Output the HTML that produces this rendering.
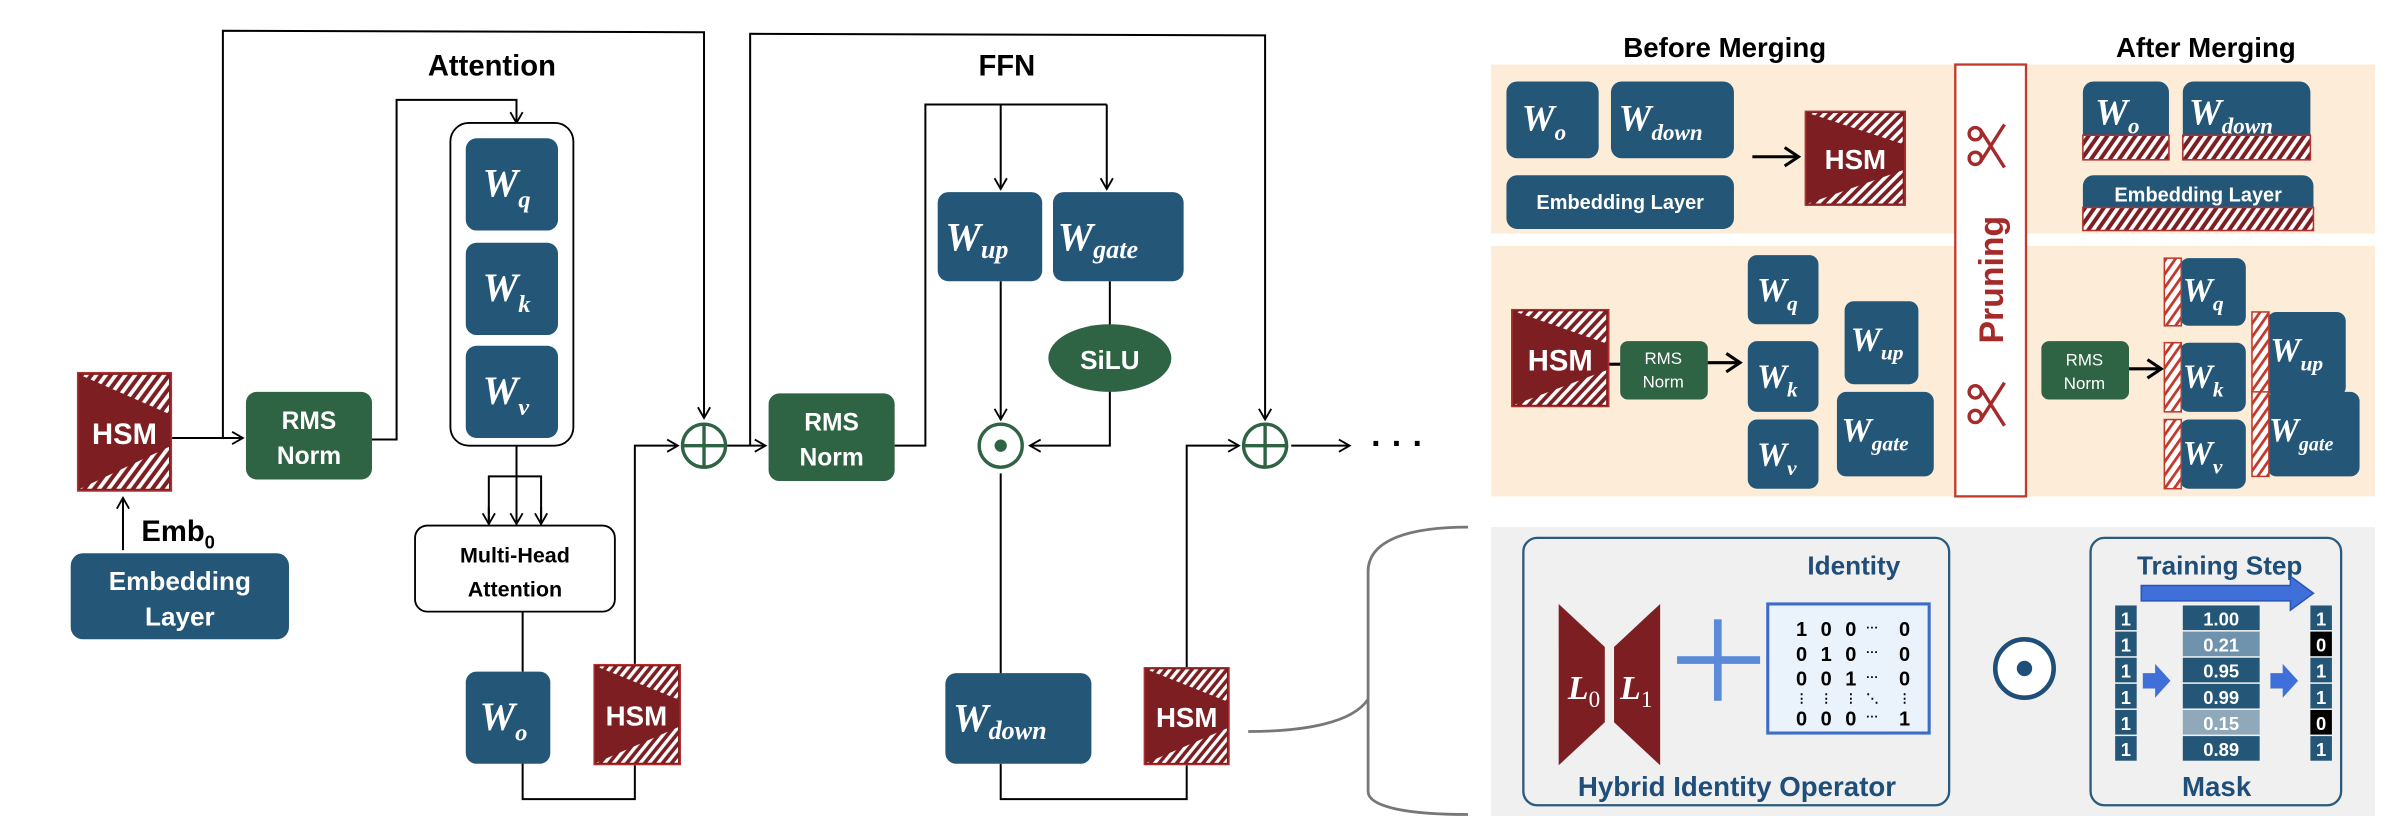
<!DOCTYPE html>
<html><head><meta charset="utf-8"><style>
html,body{margin:0;padding:0;background:#fff;}
svg{display:block;}
text{font-family:"Liberation Sans",sans-serif;}
.t{font-weight:bold;fill:#000;}
.w{font-family:"Liberation Serif",serif;font-style:italic;font-weight:bold;fill:#fff;}
.wt{fill:#fff;font-weight:bold;}
</style></head><body>
<svg width="2398" height="836" viewBox="0 0 1560 544" preserveAspectRatio="none" xmlns="http://www.w3.org/2000/svg">
<defs>
<pattern id="h" width="5" height="5" patternUnits="userSpaceOnUse" patternTransform="rotate(35)"><rect width="5" height="5" fill="#7d1f22"/><rect width="2.4" height="5" fill="#fff"/></pattern>
<pattern id="h2" width="5" height="5" patternUnits="userSpaceOnUse" patternTransform="rotate(35)"><rect width="5" height="5" fill="#fff"/><rect width="1.8" height="5" fill="#c0392b"/></pattern>
<marker id="a" markerWidth="10" markerHeight="10" refX="8" refY="5" orient="auto" markerUnits="userSpaceOnUse"><path d="M1,1 L8,5 L1,9" fill="none" stroke="#000" stroke-width="1.2"/></marker>
<marker id="ab" markerWidth="14" markerHeight="14" refX="11" refY="7" orient="auto" markerUnits="userSpaceOnUse"><path d="M2,1 L11,7 L2,13" fill="none" stroke="#000" stroke-width="2"/></marker>
<symbol id="hsm" viewBox="0 0 60 80" preserveAspectRatio="none"><rect width="60" height="80" fill="#7d1f22"/><polygon points="2,2 58,2 58,28" fill="url(#h)"/><polygon points="2,78 58,78 58,50" fill="url(#h)"/><rect x="0.5" y="0.5" width="59" height="79" fill="none" stroke="#b03030" stroke-width="1"/></symbol>
</defs>

<!-- ===== LEFT DIAGRAM ===== -->
<g fill="none" stroke="#000" stroke-width="1.3">
<polyline points="145,285 145,20 458,21 458,272" marker-end="url(#a)"/>
<line x1="112" y1="285" x2="158" y2="285" marker-end="url(#a)"/>
<line x1="80" y1="358" x2="80" y2="324" marker-end="url(#a)"/>
<polyline points="242,286 258,286 258,65 336,65 336,80" marker-end="url(#a)"/>
<polyline points="336,290 336,310"/>
<polyline points="318,340 318,310 352,310 352,340"/>
<line x1="318" y1="330" x2="318" y2="341" marker-end="url(#a)"/>
<line x1="336" y1="310" x2="336" y2="341" marker-end="url(#a)"/>
<line x1="352" y1="330" x2="352" y2="341" marker-end="url(#a)"/>
<line x1="340" y1="398" x2="340" y2="437"/>
<polyline points="340,496 340,520 413,520 413,498"/>
<polyline points="413,432 413,290 441,290" marker-end="url(#a)"/>
<line x1="473" y1="290" x2="498" y2="290" marker-end="url(#a)"/>
<polyline points="488,290 488,22 823,23 823,273" marker-end="url(#a)"/>
<polyline points="582,290 602,290 602,68 720,68"/>
<line x1="651" y1="68" x2="651" y2="123" marker-end="url(#a)"/>
<line x1="720" y1="68" x2="720" y2="123" marker-end="url(#a)"/>
<line x1="651" y1="183" x2="651" y2="273" marker-end="url(#a)"/>
<line x1="722" y1="183" x2="722" y2="212"/>
<polyline points="722,254 722,290 670,290" marker-end="url(#a)"/>
<line x1="651" y1="308" x2="651" y2="440"/>
<polyline points="651,497 651,520 772,520 772,498"/>
<polyline points="772,434 772,290 806,290" marker-end="url(#a)"/>
<line x1="840" y1="290" x2="878" y2="290" marker-end="url(#a)"/>
</g>
<text x="892" y="296" font-size="22" class="t">· · ·</text>
<!-- brace -->
<path d="M812,476 C850,476 880,470 890,455 L890,372 C890,352 915,343 955,343 M890,455 C890,470 890,480 890,498 L890,515 C890,525 915,530 955,530 M890,455 C890,478 890,470 890,475" fill="none" stroke="#777" stroke-width="1.8"/>

<text x="320" y="49" font-size="19" class="t" text-anchor="middle">Attention</text>
<text x="655" y="49" font-size="19" class="t" text-anchor="middle">FFN</text>

<use href="#hsm" x="50" y="242" width="62" height="78"/>
<text x="81" y="289" font-size="19" class="wt" text-anchor="middle">HSM</text>
<text x="92" y="352" font-size="19" class="t">Emb<tspan font-size="12" dy="5">0</tspan></text>
<rect x="46" y="360" width="142" height="56" rx="8" fill="#245678"/>
<text x="117" y="384" font-size="17" class="wt" text-anchor="middle">Embedding</text>
<text x="117" y="407" font-size="17" class="wt" text-anchor="middle">Layer</text>

<rect x="160" y="255" width="82" height="57" rx="7" fill="#2e6343"/>
<text x="201" y="279" font-size="16" class="wt" text-anchor="middle">RMS</text>
<text x="201" y="302" font-size="16" class="wt" text-anchor="middle">Norm</text>

<rect x="293" y="80" width="80" height="210" rx="12" fill="#fff" stroke="#000" stroke-width="1.2"/>
<rect x="303" y="90" width="60" height="60" rx="7" fill="#245678"/>
<text x="314" y="128" font-size="26" class="w">W<tspan font-size="16" dy="7">q</tspan></text>
<rect x="303" y="158" width="60" height="60" rx="7" fill="#245678"/>
<text x="314" y="196" font-size="26" class="w">W<tspan font-size="16" dy="7">k</tspan></text>
<rect x="303" y="225" width="60" height="60" rx="7" fill="#245678"/>
<text x="314" y="263" font-size="26" class="w">W<tspan font-size="16" dy="7">v</tspan></text>

<rect x="270" y="342" width="130" height="56" rx="8" fill="#fff" stroke="#000" stroke-width="1.2"/>
<text x="335" y="366" font-size="14" class="t" text-anchor="middle">Multi-Head</text>
<text x="335" y="388" font-size="14" class="t" text-anchor="middle">Attention</text>

<rect x="303" y="437" width="55" height="60" rx="7" fill="#245678"/>
<text x="312" y="475" font-size="26" class="w">W<tspan font-size="16" dy="7">o</tspan></text>
<use href="#hsm" x="386" y="432" width="57" height="66"/>
<text x="414" y="472" font-size="18" class="wt" text-anchor="middle">HSM</text>

<circle cx="458" cy="290" r="14" fill="#fff" stroke="#2e6343" stroke-width="2.2"/>
<line x1="444" y1="290" x2="472" y2="290" stroke="#2e6343" stroke-width="2.2"/>
<line x1="458" y1="276" x2="458" y2="304" stroke="#2e6343" stroke-width="2.2"/>

<rect x="500" y="256" width="82" height="57" rx="7" fill="#2e6343"/>
<text x="541" y="280" font-size="16" class="wt" text-anchor="middle">RMS</text>
<text x="541" y="303" font-size="16" class="wt" text-anchor="middle">Norm</text>

<rect x="610" y="125" width="68" height="58" rx="7" fill="#245678"/>
<text x="615" y="163" font-size="26" class="w">W<tspan font-size="17" dy="5">up</tspan></text>
<rect x="685" y="125" width="85" height="58" rx="7" fill="#245678"/>
<text x="688" y="163" font-size="26" class="w">W<tspan font-size="17" dy="5">gate</tspan></text>
<ellipse cx="722" cy="233" rx="40" ry="22" fill="#2e6343"/>
<text x="722" y="240" font-size="17" class="wt" text-anchor="middle">SiLU</text>

<circle cx="651" cy="290" r="14" fill="#fff" stroke="#2e6343" stroke-width="2.2"/>
<circle cx="651" cy="290" r="4" fill="#2e6343"/>

<rect x="615" y="438" width="95" height="59" rx="7" fill="#245678"/>
<text x="620" y="476" font-size="26" class="w">W<tspan font-size="17" dy="5">down</tspan></text>
<use href="#hsm" x="744" y="434" width="56" height="64"/>
<text x="772" y="473" font-size="18" class="wt" text-anchor="middle">HSM</text>

<circle cx="823" cy="290" r="14" fill="#fff" stroke="#2e6343" stroke-width="2.2"/>
<line x1="809" y1="290" x2="837" y2="290" stroke="#2e6343" stroke-width="2.2"/>
<line x1="823" y1="276" x2="823" y2="304" stroke="#2e6343" stroke-width="2.2"/>

<!-- ===== RIGHT TOP ===== -->
<text x="1122" y="37" font-size="18" class="t" text-anchor="middle">Before Merging</text>
<text x="1435" y="37" font-size="18" class="t" text-anchor="middle">After Merging</text>
<rect x="970" y="42" width="575" height="110" fill="#fcecd8"/>
<rect x="970" y="160" width="575" height="163" fill="#fcecd8"/>

<rect x="980" y="53" width="60" height="50" rx="7" fill="#245678"/>
<text x="990" y="85" font-size="24" class="w">W<tspan font-size="15" dy="6">o</tspan></text>
<rect x="1048" y="53" width="80" height="50" rx="7" fill="#245678"/>
<text x="1053" y="85" font-size="24" class="w">W<tspan font-size="15" dy="6">down</tspan></text>
<rect x="980" y="114" width="148" height="35" rx="7" fill="#245678"/>
<text x="1054" y="136" font-size="13" class="wt" text-anchor="middle">Embedding Layer</text>
<line x1="1140" y1="102" x2="1170" y2="102" stroke="#000" stroke-width="2" marker-end="url(#ab)"/>
<use href="#hsm" x="1174" y="72" width="66" height="62"/>
<text x="1207" y="110" font-size="18" class="wt" text-anchor="middle">HSM</text>

<rect x="1355" y="53" width="56" height="50" rx="7" fill="#245678"/>
<rect x="1355" y="88" width="56" height="16" fill="url(#h)" stroke="#b03030"/>
<text x="1363" y="81" font-size="24" class="w">W<tspan font-size="15" dy="6">o</tspan></text>
<rect x="1420" y="53" width="83" height="50" rx="7" fill="#245678"/>
<rect x="1420" y="88" width="83" height="16" fill="url(#h)" stroke="#b03030"/>
<text x="1424" y="81" font-size="24" class="w">W<tspan font-size="15" dy="6">down</tspan></text>
<rect x="1355" y="114" width="150" height="36" rx="7" fill="#245678"/>
<rect x="1355" y="135" width="150" height="15" fill="url(#h)" stroke="#b03030"/>
<text x="1430" y="131" font-size="13" class="wt" text-anchor="middle">Embedding Layer</text>

<!-- Pruning -->
<rect x="1272" y="42" width="46" height="281" fill="#fff" stroke="#c0392b" stroke-width="1.5"/>
<text transform="translate(1303,182) rotate(-90)" font-size="22" font-weight="bold" fill="#a52a2a" text-anchor="middle" style="font-family:'Liberation Sans',sans-serif">Pruning</text>
<g fill="none" stroke="#a52a2a" stroke-width="2.2">
<circle cx="1285" cy="87" r="4"/><circle cx="1285" cy="103" r="4"/>
<path d="M1288,84 L1304,109 M1288,106 L1304,81"/>
<circle cx="1285" cy="255" r="4"/><circle cx="1285" cy="271" r="4"/>
<path d="M1288,252 L1304,277 M1288,274 L1304,249"/>
</g>

<!-- bottom band before -->
<use href="#hsm" x="983" y="201" width="64" height="64"/>
<text x="1015" y="241" font-size="19" class="wt" text-anchor="middle">HSM</text>
<rect x="1054" y="222" width="57" height="38" rx="5" fill="#2e6343"/>
<line x1="1047" y1="237" x2="1054" y2="237" stroke="#000" stroke-width="2"/>
<text x="1082" y="237" font-size="11" fill="#fff" text-anchor="middle">RMS</text>
<text x="1082" y="252" font-size="11" fill="#fff" text-anchor="middle">Norm</text>
<line x1="1111" y1="236" x2="1132" y2="236" stroke="#000" stroke-width="2" marker-end="url(#ab)"/>
<rect x="1137" y="166" width="46" height="45" rx="6" fill="#245678"/>
<text x="1143" y="196" font-size="22" class="w">W<tspan font-size="14" dy="6">q</tspan></text>
<rect x="1137" y="222" width="46" height="46" rx="6" fill="#245678"/>
<text x="1143" y="252" font-size="22" class="w">W<tspan font-size="14" dy="6">k</tspan></text>
<rect x="1137" y="273" width="46" height="45" rx="6" fill="#245678"/>
<text x="1143" y="303" font-size="22" class="w">W<tspan font-size="14" dy="6">v</tspan></text>
<rect x="1200" y="196" width="48" height="54" rx="6" fill="#245678"/>
<text x="1204" y="228" font-size="22" class="w">W<tspan font-size="14" dy="6">up</tspan></text>
<rect x="1195" y="255" width="63" height="55" rx="6" fill="#245678"/>
<text x="1198" y="287" font-size="22" class="w">W<tspan font-size="14" dy="6">gate</tspan></text>

<!-- bottom band after -->
<rect x="1328" y="222" width="57" height="38" rx="5" fill="#2e6343"/>
<text x="1356" y="238" font-size="11" fill="#fff" text-anchor="middle">RMS</text>
<text x="1356" y="253" font-size="11" fill="#fff" text-anchor="middle">Norm</text>
<line x1="1385" y1="240" x2="1406" y2="240" stroke="#000" stroke-width="2" marker-end="url(#ab)"/>
<rect x="1418" y="168" width="43" height="44" rx="6" fill="#245678"/>
<rect x="1408" y="168" width="11" height="44" fill="url(#h2)" stroke="#c0392b"/>
<text x="1420" y="196" font-size="22" class="w">W<tspan font-size="14" dy="6">q</tspan></text>
<rect x="1418" y="223" width="43" height="45" rx="6" fill="#245678"/>
<rect x="1408" y="223" width="11" height="45" fill="url(#h2)" stroke="#c0392b"/>
<text x="1420" y="252" font-size="22" class="w">W<tspan font-size="14" dy="6">k</tspan></text>
<rect x="1418" y="273" width="43" height="45" rx="6" fill="#245678"/>
<rect x="1408" y="273" width="11" height="45" fill="url(#h2)" stroke="#c0392b"/>
<text x="1420" y="302" font-size="22" class="w">W<tspan font-size="14" dy="6">v</tspan></text>
<rect x="1475" y="203" width="51" height="55" rx="6" fill="#245678"/>
<rect x="1465" y="203" width="11" height="55" fill="url(#h2)" stroke="#c0392b"/>
<text x="1477" y="235" font-size="22" class="w">W<tspan font-size="14" dy="6">up</tspan></text>
<rect x="1475" y="255" width="60" height="55" rx="6" fill="#245678"/>
<rect x="1465" y="255" width="11" height="55" fill="url(#h2)" stroke="#c0392b"/>
<text x="1476" y="287" font-size="22" class="w">W<tspan font-size="13" dy="6">gate</tspan></text>

<!-- ===== RIGHT BOTTOM ===== -->
<rect x="970" y="343" width="575" height="188" fill="#f0f0f0"/>
<rect x="991" y="350" width="277" height="174" rx="9" fill="none" stroke="#2a5a7c" stroke-width="1.5"/>
<text x="1206" y="374" font-size="17" font-weight="bold" fill="#1f4e79" text-anchor="middle">Identity</text>
<polygon points="1014,393 1044,421 1044,470 1014,498" fill="#7d1f22"/>
<polygon points="1050,421 1080,393 1080,498 1050,470" fill="#7d1f22"/>
<text x="1020" y="455" font-size="22" class="w">L<tspan font-size="15" dy="5" font-style="normal" font-weight="normal">0</tspan></text>
<text x="1054" y="455" font-size="22" class="w">L<tspan font-size="15" dy="5" font-style="normal" font-weight="normal">1</tspan></text>
<rect x="1091" y="427" width="54" height="5" fill="#5b8ad8"/>
<rect x="1115" y="403" width="5" height="53" fill="#5b8ad8"/>
<rect x="1159" y="395" width="160" height="0" fill="none"/>
<rect x="1159" y="395" width="161" height="0"/>
<rect x="1159" y="395" width="1" height="0"/>
<rect x="1159" y="395" width="0" height="0"/>
<rect x="1159" y="395" width="0" height="0"/>
<rect x="1159" y="395" width="0" height="0"/>
<rect x="1159" y="395" width="0" height="0"/>
<rect x="1159" y="395" width="0" height="0"/>
<rect x="1159" y="395" width="0" height="0"/>
<rect x="1159" y="395" width="0" height="0"/>
<rect x="1159" y="395" width="0" height="0"/>
<rect x="1159" y="395" width="0" height="0"/>
<rect x="1159" y="395" width="0" height="0"/>
<rect x="1159" y="395" width="0" height="0"/>
<rect x="1159" y="395" width="0" height="0"/>
<rect x="1159" y="395" width="0" height="0"/>
<rect x="1159" y="395" width="0" height="0"/>
<rect x="1159" y="395" width="0" height="0"/>
<rect x="1159" y="395" width="0" height="0"/>
<rect x="1159" y="395" width="0" height="0"/>
<rect x="1159" y="395" width="0" height="0"/>
<rect x="1159" y="395" width="0" height="0"/>
<rect x="1159" y="395" width="0" height="0"/>
<rect x="1159" y="395" width="0" height="0"/>
<rect x="1159" y="395" width="0" height="0"/>
<rect x="1159" y="395" width="0" height="0"/>
<rect x="1159" y="395" width="0" height="0"/>
<rect x="1159" y="395" width="0" height="0"/>
<rect x="1159" y="395" width="0" height="0"/>
<rect x="1150" y="393" width="105" height="84" fill="#eaf2fb" stroke="#3a6cc8" stroke-width="2"/>
<g font-size="13" font-weight="bold" fill="#000" text-anchor="middle">
<text x="1172" y="414">1</text><text x="1188" y="414">0</text><text x="1204" y="414">0</text><text x="1218" y="411" font-size="8">···</text><text x="1239" y="414">0</text>
<text x="1172" y="430">0</text><text x="1188" y="430">1</text><text x="1204" y="430">0</text><text x="1218" y="427" font-size="8">···</text><text x="1239" y="430">0</text>
<text x="1172" y="446">0</text><text x="1188" y="446">0</text><text x="1204" y="446">1</text><text x="1218" y="443" font-size="8">···</text><text x="1239" y="446">0</text>
<text x="1172" y="457" font-size="8">⋮</text><text x="1188" y="457" font-size="8">⋮</text><text x="1204" y="457" font-size="8">⋮</text><text x="1218" y="457" font-size="8">⋱</text><text x="1239" y="457" font-size="8">⋮</text>
<text x="1172" y="472">0</text><text x="1188" y="472">0</text><text x="1204" y="472">0</text><text x="1218" y="469" font-size="8">···</text><text x="1239" y="472">1</text>
</g>
<text x="1130" y="518" font-size="18" font-weight="bold" fill="#1f4e79" text-anchor="middle">Hybrid Identity Operator</text>

<circle cx="1317" cy="435" r="19" fill="#fff" stroke="#1f4e79" stroke-width="3"/>
<circle cx="1317" cy="435" r="5" fill="#1f4e79"/>

<rect x="1360" y="350" width="163" height="174" rx="9" fill="none" stroke="#2a5a7c" stroke-width="1.5"/>
<text x="1444" y="374" font-size="17" font-weight="bold" fill="#1f4e79" text-anchor="middle">Training Step</text>
<polygon points="1393,381 1490,381 1490,375 1505,386 1490,397 1490,391 1393,391" fill="#3f6fd8" stroke="#2a55b8"/>
<g font-size="12" font-weight="bold" text-anchor="middle">
<rect x="1376" y="394" width="14" height="16" fill="#245678"/><text x="1383" y="407" fill="#fff">1</text>
<rect x="1376" y="411" width="14" height="16" fill="#245678"/><text x="1383" y="424" fill="#fff">1</text>
<rect x="1376" y="428" width="14" height="16" fill="#245678"/><text x="1383" y="441" fill="#fff">1</text>
<rect x="1376" y="445" width="14" height="16" fill="#245678"/><text x="1383" y="458" fill="#fff">1</text>
<rect x="1376" y="462" width="14" height="16" fill="#245678"/><text x="1383" y="475" fill="#fff">1</text>
<rect x="1376" y="479" width="14" height="16" fill="#245678"/><text x="1383" y="492" fill="#fff">1</text>
<rect x="1420" y="394" width="50" height="16" fill="#245678"/><text x="1445" y="407" fill="#fff">1.00</text>
<rect x="1420" y="411" width="50" height="16" fill="#6f93ad"/><text x="1445" y="424" fill="#fff">0.21</text>
<rect x="1420" y="428" width="50" height="16" fill="#245678"/><text x="1445" y="441" fill="#fff">0.95</text>
<rect x="1420" y="445" width="50" height="16" fill="#245678"/><text x="1445" y="458" fill="#fff">0.99</text>
<rect x="1420" y="462" width="50" height="16" fill="#8fa9bb"/><text x="1445" y="475" fill="#fff">0.15</text>
<rect x="1420" y="479" width="50" height="16" fill="#245678"/><text x="1445" y="492" fill="#fff">0.89</text>
<rect x="1503" y="394" width="14" height="16" fill="#245678"/><text x="1510" y="407" fill="#fff">1</text>
<rect x="1503" y="411" width="14" height="16" fill="#000"/><text x="1510" y="424" fill="#fff">0</text>
<rect x="1503" y="428" width="14" height="16" fill="#245678"/><text x="1510" y="441" fill="#fff">1</text>
<rect x="1503" y="445" width="14" height="16" fill="#245678"/><text x="1510" y="458" fill="#fff">1</text>
<rect x="1503" y="462" width="14" height="16" fill="#000"/><text x="1510" y="475" fill="#fff">0</text>
<rect x="1503" y="479" width="14" height="16" fill="#245678"/><text x="1510" y="492" fill="#fff">1</text>
</g>
<polygon points="1394,438 1402,438 1402,432 1412,443 1402,454 1402,448 1394,448" fill="#3f6fd8"/>
<polygon points="1477,438 1485,438 1485,432 1495,443 1485,454 1485,448 1477,448" fill="#3f6fd8"/>
<text x="1442" y="518" font-size="18" font-weight="bold" fill="#1f4e79" text-anchor="middle">Mask</text>
</svg>
</body></html>
